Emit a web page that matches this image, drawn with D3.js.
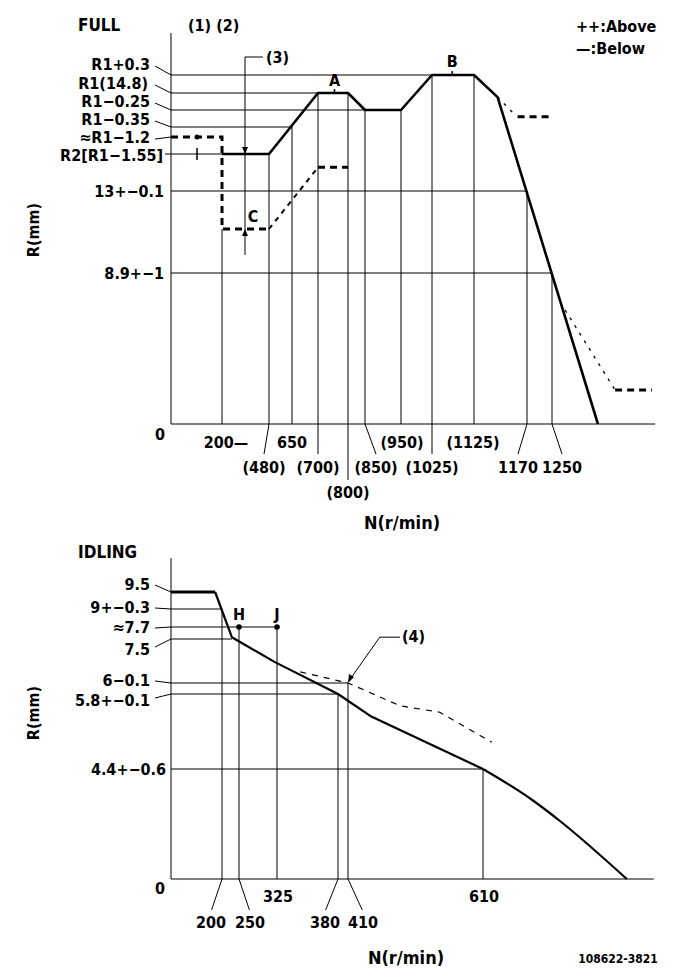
<!DOCTYPE html>
<html>
<head>
<meta charset="utf-8">
<script src="https://cdn.jsdelivr.net/npm/d3@7"></script>
<style>
body { margin: 0; background: #fff; }
text { font-family: "DejaVu Sans Condensed", "DejaVu Sans", sans-serif; font-weight: bold; font-stretch: condensed; fill: #000; }
</style>
</head>
<body>
<div id="chart"></div>
<script>
// ---------- FULL (top) diagram data ----------
const fullN = [0, 200, 480, 650, 700, 800, 850, 950, 1025, 1125, 1170, 1250];
const fullNText = ["0", "200—", "(480)", "650", "(700)", "(800)", "(850)", "(950)", "(1025)", "(1125)", "1170", "1250"];
const fullR = [0, 8.9, 13, 13.25, 13.6, 14.45, 14.55, 14.8, 15.1];
const fullRText = ["0", "8.9+−1", "13+−0.1", "R2[R1−1.55]", "≈R1−1.2", "R1−0.35", "R1−0.25", "R1(14.8)", "R1+0.3"];

// solid characteristic
const fullMainN = [200, 480, 700, 800, 850, 950, 1025, 1125, 1145, 1397];
const fullMainR = [13.25, 13.25, 14.8, 14.8, 14.55, 14.55, 15.1, 15.1, 14.74, 0];
// limit lines (thick dashed) and thin dashed links
const fullThick = [
  [[0, 13.6], [200, 13.6], [200, 11.1], [480, 11.1]],
  [[700, 13.16], [800, 13.16]],
  [[1162, 14.51], [1250, 14.51]],
  [[1452, 2.0], [1570, 2.0]]
];
const fullMid = [[480, 11.1], [700, 13.16]];
const fullThin = [
  [[1145, 14.74], [1160, 14.52]],
  [[1292, 6.72], [1452, 2.0]]
];
// vertical grid line tops, per tick
const fullVTop = [null, 11.1, 13.25, 14.45, 14.8, 14.8, 14.55, 14.55, 15.1, 15.1, 13, 8.9];
// horizontal grid line ends (rpm), per R level
const fullHEnd = [null, 1250, 1170, null, null, 650, 850, 700, 1025];

// ---------- IDLING (bottom) diagram data ----------
const idleN = [0, 200, 250, 325, 380, 410, 610];
const idleNText = ["0", "200", "250", "325", "380", "410", "610"];
const idleR = [0, 4.4, 5.8, 6, 7.5, 7.7, 9, 9.5];
const idleRText = ["0", "4.4+−0.6", "5.8+−0.1", "6−0.1", "7.5", "≈7.7", "9+−0.3", "9.5"];

const idleMainN = [173, 229, 320, 380, 443, 610];
const idleMainR = [9.5, 7.53, 6.72, 5.8, 5.39, 4.4];
const idleTailN = [610, 683, 724, 823];
const idleTailR = [4.4, 3.16, 2.32, 0];
const idleDashN = [346, 410, 438, 487, 546, 623];
const idleDashR = [6.38, 6.0, 5.85, 5.58, 5.46, 4.9];
const idleVTop = [null, 9, 7.7, 7.7, 5.8, 6, 4.4];
const idleHEnd = [null, 610, 380, 410, 229, 325, 200, 0];
const idlePoints = [{ n: 250, r: 7.7, t: "H" }, { n: 325, r: 7.7, t: "J" }];

// ---------- drawing ----------
const svg = d3.select("#chart").append("svg")
  .attr("width", 681).attr("height", 979)
  .attr("viewBox", [0, 0, 681, 979]);

const xF = d3.scaleLinear().domain(fullN).range([171, 222, 269, 292, 318, 348, 365, 401, 432, 474, 527, 552]);
const yF = d3.scaleLinear().domain(fullR).range([424, 273, 191, 154, 137, 127, 110, 93, 75]);
const xI = d3.scaleLinear().domain(idleN).range([171, 222, 239, 277, 338, 348, 483]);
const yI = d3.scaleLinear().domain(idleR).range([879, 769, 694, 683, 639, 627, 609, 592]);

function seg(g, x1, y1, x2, y2, w) {
  return g.append("line").attr("x1", x1).attr("y1", y1).attr("x2", x2).attr("y2", y2)
    .attr("stroke", "#000").attr("stroke-width", w || 1);
}
function label(g, x, y, t, anchor, size) {
  return g.append("text").attr("x", x).attr("y", y).attr("dy", "0.36em")
    .attr("text-anchor", anchor || "middle").style("font-size", (size || 16) + "px").text(t);
}

// ===== FULL =====
const gF = svg.append("g");
const lineF = d3.line().x(d => xF(d[0])).y(d => yF(d[1]));

label(gF, 78, 25, "FULL", "start", 17);
label(gF, 188, 25, "(1) (2)", "start", 16);
label(gF, 576, 26, "++:Above", "start", 16);
label(gF, 576, 48, "—:Below", "start", 16);

// axes
seg(gF, xF(0), yF(15.8), xF(0), yF(0));
seg(gF, xF(0), yF(0), xF(1580), yF(0));

// horizontal grid lines
fullR.forEach((r, i) => { if (fullHEnd[i] != null) seg(gF, xF(0), yF(r), xF(fullHEnd[i]), yF(r)); });
// vertical grid lines
fullN.forEach((n, i) => { if (fullVTop[i] != null) seg(gF, xF(n), yF(fullVTop[i]), xF(n), yF(0)); });

// y labels
const fullRLayout = [null, [164, 0, 0], [164, 0, 0], [163, 1, 0], [150, 0, 1], [150, -8, 1], [150, -9, 1], [148, -10, 1], [150, -11, 1]];
fullR.forEach((r, i) => {
  const L = fullRLayout[i];
  if (!L) return;
  label(gF, L[0], yF(r) + L[1], fullRText[i], "end");
  if (L[2]) seg(gF, 155, yF(r) + L[1] + 2, xF(0), yF(r));
});
// R2 leader with mark
seg(gF, 165, yF(13.25), xF(200), yF(13.25));
seg(gF, xF(102), yF(13.25) - 6, xF(102), yF(13.25) + 6, 1.5);
label(gF, 160, 434, "0", "middle");

// x labels
const fullNLayout = [null, [0, 4], [1, -5], [0, 0], [1, 0], [2, 0], [1, 11], [0, 1], [1, 0], [0, -1], [1, -9], [1, 10]];
const rowY = [442, 467, 492];
fullN.forEach((n, i) => {
  const L = fullNLayout[i];
  if (!L) return;
  const x0 = xF(n);
  label(gF, x0 + L[1], rowY[L[0]], fullNText[i], "middle");
  if (L[0] === 1) seg(gF, x0, yF(0), x0 + L[1], 454);
  if (L[0] === 2) seg(gF, x0, yF(0), x0, 480);
});
label(gF, 402, 523, "N(r/min)", "middle", 18);
label(gF, 33, 230, "R(mm)", "middle", 16).attr("transform", "rotate(-90,33,230)");

// curves
fullThin.forEach(p => gF.append("path").attr("d", lineF(p)).attr("fill", "none")
  .attr("stroke", "#000").attr("stroke-width", 1.3).attr("stroke-dasharray", "3,6"));
gF.append("path").attr("d", lineF(fullMid)).attr("fill", "none")
  .attr("stroke", "#000").attr("stroke-width", 2).attr("stroke-dasharray", "5,5");
fullThick.forEach(p => gF.append("path").attr("d", lineF(p)).attr("fill", "none")
  .attr("stroke", "#000").attr("stroke-width", 3).attr("stroke-dasharray", "7,5"));
gF.append("path").attr("d", lineF(d3.zip(fullMainN, fullMainR))).attr("fill", "none")
  .attr("stroke", "#000").attr("stroke-width", 2.6).attr("stroke-linejoin", "round");
gF.append("circle").attr("cx", xF(102)).attr("cy", yF(13.6)).attr("r", 2.5);

// (3) marker line
const x3 = xF(337);
seg(gF, x3, yF(15.4), x3, yF(9.8));
seg(gF, x3, yF(15.4), xF(444), yF(15.4));
label(gF, 266, yF(15.4), "(3)", "start", 16);
gF.append("path").attr("d", `M${x3 - 3},${yF(13.25) - 7}L${x3 + 3},${yF(13.25) - 7}L${x3},${yF(13.25)}Z`);
gF.append("path").attr("d", `M${x3 - 3},${yF(11.1) + 7}L${x3 + 3},${yF(11.1) + 7}L${x3},${yF(11.1)}Z`);
label(gF, 253, 216, "C", "middle", 16);
label(gF, xF(755), 80, "A", "middle", 16);
seg(gF, xF(755), yF(14.8) - 4, xF(755), yF(14.8), 1.5);
label(gF, xF(1073), 61, "B", "middle", 16);
seg(gF, xF(1073), yF(15.1) - 4, xF(1073), yF(15.1), 1.5);

// ===== IDLING =====
const gI = svg.append("g");
const lineI = d3.line().x(d => xI(d[0])).y(d => yI(d[1]));

label(gI, 78, 552, "IDLING", "start", 17);
seg(gI, xI(0), yI(10.5), xI(0), yI(0));
seg(gI, xI(0), yI(0), xI(863), yI(0));

idleR.forEach((r, i) => { if (idleHEnd[i] != null && idleHEnd[i] > 0) seg(gI, xI(0), yI(r), xI(idleHEnd[i]), yI(r)); });
idleN.forEach((n, i) => { if (idleVTop[i] != null) seg(gI, xI(n), yI(idleVTop[i]), xI(n), yI(0)); });

const idleRLayout = [null, [166, 0, 0], [150, 6, 1], [150, -3, 1], [150, 10, 1], [150, 0, 1], [150, -2, 1], [150, -8, 1]];
idleR.forEach((r, i) => {
  const L = idleRLayout[i];
  if (!L) return;
  label(gI, L[0], yI(r) + L[1], idleRText[i], "end");
  if (L[2]) seg(gI, 155, yI(r) + L[1] + (L[1] > 0 ? -2 : 1), xI(0), yI(r));
});
label(gI, 160, 888, "0", "middle");

const idleNLayout = [null, [1, -11], [1, 11], [0, 1], [1, -13], [1, 15], [0, 1]];
const rowYI = [896, 922];
idleN.forEach((n, i) => {
  const L = idleNLayout[i];
  if (!L) return;
  const x0 = xI(n);
  label(gI, x0 + L[1], rowYI[L[0]], idleNText[i], "middle");
  if (L[0] === 1) seg(gI, x0, yI(0), x0 + L[1] * 0.95, 910);
});
label(gI, 406, 958, "N(r/min)", "middle", 18);
label(gI, 33, 713, "R(mm)", "middle", 16).attr("transform", "rotate(-90,33,713)");
label(gI, 618, 959, "108622-3821", "middle", 12);

gI.append("path").attr("d", lineI(d3.zip(idleDashN, idleDashR))).attr("fill", "none")
  .attr("stroke", "#000").attr("stroke-width", 1.2).attr("stroke-dasharray", "6,6");
gI.append("path").attr("d", lineI([[0, 9.5], [173, 9.5]])).attr("stroke", "#000").attr("stroke-width", 3.2);
gI.append("path").attr("d", lineI(d3.zip(idleMainN, idleMainR))).attr("fill", "none")
  .attr("stroke", "#000").attr("stroke-width", 2.2).attr("stroke-linejoin", "round");
gI.append("path").attr("d", lineI.curve(d3.curveMonotoneX)(d3.zip(idleTailN, idleTailR))).attr("fill", "none")
  .attr("stroke", "#000").attr("stroke-width", 2.2);

idlePoints.forEach(p => {
  gI.append("circle").attr("cx", xI(p.n)).attr("cy", yI(p.r)).attr("r", 2.8);
  label(gI, xI(p.n), 614, p.t, "middle", 16);
});

// (4) leader
const tipX = xI(410), tipY = yI(6.0);
seg(gI, tipX + 3, tipY - 5, xI(457), yI(7.53));
seg(gI, xI(457), yI(7.53), xI(487), yI(7.53));
gI.append("path").attr("d", `M${tipX},${tipY}L${tipX + 1},${tipY - 9}L${tipX + 6},${tipY - 6}Z`);
label(gI, 402, 636, "(4)", "start", 16);
</script>
</body>
</html>
